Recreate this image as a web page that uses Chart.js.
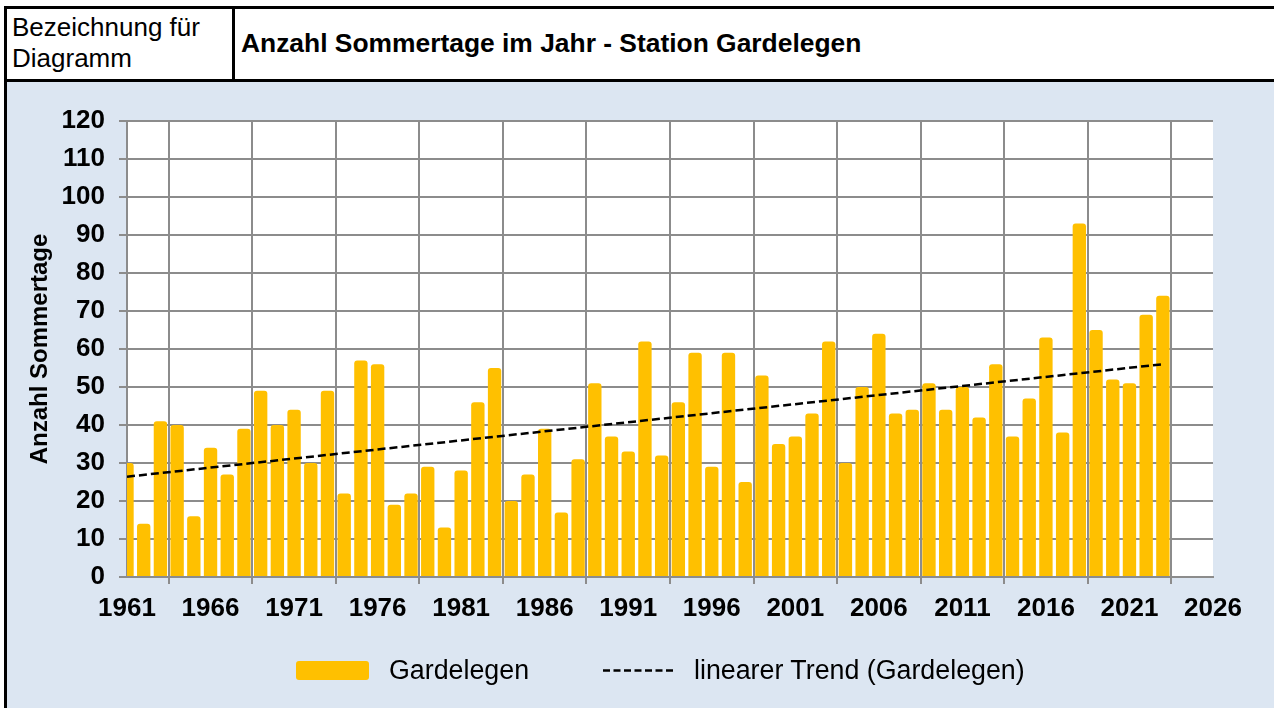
<!DOCTYPE html>
<html>
<head>
<meta charset="utf-8">
<script src="https://cdn.jsdelivr.net/npm/chart.js@4.4.1/dist/chart.umd.min.js"></script>
<style>
  html, body { margin: 0; padding: 0; background: #ffffff; }
  body { width: 1274px; height: 708px; position: relative; overflow: hidden; font-family: "Liberation Sans", Arial, sans-serif; }
  .blk { position: absolute; background: #000; }
  #bodybg { position: absolute; left: 7px; top: 82px; width: 1267px; height: 626px; background: #dce6f2; }
  #lbl { position: absolute; left: 12px; top: 12px; font-size: 26px; line-height: 31px; color: #000; }
  #title { position: absolute; left: 241px; top: 28px; font-size: 26.4px; line-height: 30px; font-weight: bold; color: #000; white-space: nowrap; }
  #wrap { position: absolute; left: 7px; top: 82px; width: 1267px; height: 626px; }
  .leg { position: absolute; top: 655px; font-size: 26.8px; line-height: 30px; color: #000; white-space: nowrap; }
  #legbox { position: absolute; left: 296px; top: 661px; width: 73px; height: 19px; background: #ffc000; border-radius: 3px; }
  #legline { position: absolute; left: 603px; top: 668px; }
</style>
</head>
<body>
<div id="bodybg"></div>
<div class="blk" style="left:4px;top:6px;width:1270px;height:3px;"></div>
<div class="blk" style="left:4px;top:6px;width:3px;height:702px;"></div>
<div class="blk" style="left:232px;top:6px;width:3px;height:76px;"></div>
<div class="blk" style="left:4px;top:79px;width:1270px;height:3px;"></div>
<div id="lbl">Bezeichnung für<br>Diagramm</div>
<div id="title">Anzahl Sommertage im Jahr - Station Gardelegen</div>
<div id="wrap"><canvas id="c" width="1267" height="626"></canvas></div>
<div id="legbox"></div>
<div class="leg" id="leg1" style="left:389px;"></div>
<svg id="legline" width="72" height="5"><line x1="0" y1="2.5" x2="72" y2="2.5" stroke="#000" stroke-width="2.5" stroke-dasharray="7,3.5"/></svg>
<div class="leg" id="leg2" style="left:694px;"></div>
<script>
const years = [1961,1962,1963,1964,1965,1966,1967,1968,1969,1970,
  1971,1972,1973,1974,1975,1976,1977,1978,1979,1980,
  1981,1982,1983,1984,1985,1986,1987,1988,1989,1990,
  1991,1992,1993,1994,1995,1996,1997,1998,1999,2000,
  2001,2002,2003,2004,2005,2006,2007,2008,2009,2010,
  2011,2012,2013,2014,2015,2016,2017,2018,2019,2020,
  2021,2022,2023];
const sommertage = [30,14,41,40,16,34,27,39,49,40,
  44,30,49,22,57,56,19,22,29,13,
  28,46,55,20,27,39,17,31,51,37,
  33,62,32,46,59,29,59,25,53,35,
  37,43,62,30,50,64,43,44,51,44,
  50,42,56,37,47,63,38,93,65,52,
  51,69,74];
const trendYears = [1961, 2023];
const trendValues = [26.4, 56.0];
const xTickMin = 1961, xTickMax = 2026, xTickStep = 5;
const yTickMin = 0, yTickMax = 120, yTickStep = 10;
const seriesLabel = 'Gardelegen';
const trendLabel = 'linearer Trend (Gardelegen)';
const yTitle = 'Anzahl Sommertage';

document.getElementById('leg1').textContent = seriesLabel;
document.getElementById('leg2').textContent = trendLabel;

const FONT = '"Liberation Sans", Arial, sans-serif';
const GRID = '#8c8c8c';

new Chart(document.getElementById('c'), {
  type: 'bar',
  data: {
    datasets: [
      {
        type: 'line',
        label: trendLabel,
        data: trendYears.map((y, i) => ({ x: y, y: trendValues[i] })),
        borderColor: '#000',
        borderWidth: 2.5,
        borderDash: [8, 4],
        pointRadius: 0,
        fill: false,
        order: 0
      },
      {
        type: 'bar',
        label: seriesLabel,
        data: years.map((y, i) => ({ x: y, y: sommertage[i] })),
        backgroundColor: '#ffc000',
        borderWidth: 0,
        borderRadius: 3,
        borderSkipped: 'bottom',
        barPercentage: 0.8,
        categoryPercentage: 1.0,
        order: 1
      }
    ]
  },
  options: {
    responsive: false,
    animation: false,
    devicePixelRatio: 1,
    layout: { padding: { left: 0, top: 39, right: 61, bottom: 0 } },
    plugins: {
      legend: { display: false },
      tooltip: { enabled: false }
    },
    scales: {
      x: {
        type: 'linear',
        min: xTickMin,
        max: xTickMax,
        offset: false,
        ticks: {
          stepSize: xTickStep,
          autoSkip: false,
          maxRotation: 0,
          padding: 9,
          color: '#000',
          font: { family: FONT, size: 26, weight: 'bold' },
          callback: (v) => String(v)
        },
        grid: { color: GRID, lineWidth: 2, tickLength: 7, drawTicks: true },
        border: { color: GRID, width: 2 },
        afterFit: (s) => { s.height = 131; }
      },
      y: {
        min: yTickMin,
        max: yTickMax,
        ticks: {
          stepSize: yTickStep,
          padding: 14,
          color: '#000',
          font: { family: FONT, size: 26, weight: 'bold' }
        },
        grid: { color: GRID, lineWidth: 2, tickLength: 8, drawTicks: true },
        border: { color: GRID, width: 2 },
        title: {
          display: true,
          text: yTitle,
          color: '#000',
          font: { family: FONT, size: 24, weight: 'bold' },
          padding: { top: 19, bottom: 0 }
        },
        afterFit: (s) => { s.width = 120; }
      }
    }
  },
  plugins: [{
    id: 'whiteArea',
    beforeDraw(chart) {
      const { ctx, chartArea: a } = chart;
      ctx.save();
      ctx.fillStyle = '#ffffff';
      ctx.fillRect(a.left, a.top, a.right - a.left, a.bottom - a.top);
      ctx.restore();
    }
  }]
});
</script>
</body>
</html>
